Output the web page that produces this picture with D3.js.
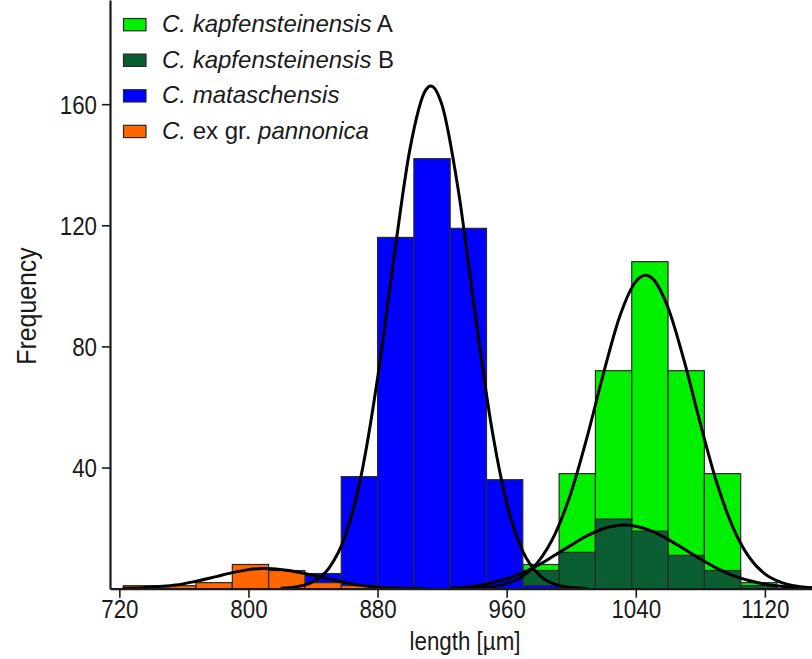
<!DOCTYPE html>
<html>
<head>
<meta charset="utf-8">
<script src="https://cdn.jsdelivr.net/npm/d3@7"></script>
<style>
  html, body { margin: 0; padding: 0; background: #ffffff; }
  svg { display: block; font-family: "Liberation Sans", Arial, sans-serif; }
</style>
</head>
<body>
<svg id="chart" width="812" height="659"></svg>
<script>
// ---------------- data ----------------
const binStart = 722.5;          // first bin edge, µm
const binWidth = 22.5;           // bin width, µm
const binCount = 19;

const seriesNames = ["C. kapfensteinensis A", "C. kapfensteinensis B", "C. mataschensis", "C. ex gr. pannonica"];

// counts per bin (bins start at 722.5 and are 22.5 µm wide)
const countsA      = [0,0,0,0,0,0,0,0,0,0,0, 8,38,72,108,72,38,2,0];
const countsB      = [0,0,0,0,0,0,0,0,0,0,0, 6,12,23,19,11,6,1,0];
const countsMatas  = [0,0,0,0,0,5,37,116,142,119,36,1,0,0,0,0,0,0,0];
const countsPannon = [1,1,2,8,6,2,1,0,0,0,0,0,0,0,0,0,0,0,0];

// fitted curves
const curveAX = [930,940,950,960,970,980,990,1000,1010,1020,1030,1040,1046,1050,1060,1070,1080,1090,1100,1110,1120,1130,1140,1150];
const curveAY = [0.05,0.2,0.6,1.7,4.2,9.2,18.1,31.9,50.4,71.1,89.8,101.4,103.5,102.6,92.8,75.2,54.5,35.3,20.5,10.6,4.9,2.1,0.8,0.25];

const curveBX = [925,940,950,960,970,980,990,1000,1010,1020,1033,1040,1050,1060,1070,1080,1090,1100,1110,1120,1130,1140,1150];
const curveBY = [0.2,0.8,1.9,3.3,5.3,7.9,11.1,14.4,17.5,19.8,21,20.6,19.0,16.3,13.1,9.8,6.8,4.4,2.7,1.5,0.8,0.4,0.2];

const curveMX = [820,830,840,850,860,870,880,890,900,910,913,920,930,940,950,960,970,980,990,1000,1010];
const curveMY = [0.16,0.67,2.3,6.9,17.5,37.8,69.5,108.7,145,164.8,166,159.6,131.7,92.6,55.5,28.4,12.3,4.6,1.4,0.4,0.1];

const curvePX = [722,735,745,755,767,780,790,800,808,815,825,835,845,857,868,880,895,910];
const curvePY = [0.15,0.35,0.7,1.2,2.4,4.0,5.3,6.3,6.7,6.6,6.0,5.0,3.8,2.4,1.2,0.5,0.15,0.05];

const xTicks = [720, 800, 880, 960, 1040, 1120];
const yTicks = [40, 80, 120, 160];
const xLabel = "length [µm]";
const yLabel = "Frequency";

// ---------------- styling ----------------
const colors = ["#00f000", "#0b5e32", "#0000ff", "#ff6600"];
const squeeze = 0.86;   // the reference axis text is horizontally condensed

const svg = d3.select("#chart");
const x = d3.scaleLinear().domain([714.2, 1149.2]).range([110, 812]);
const y = d3.scaleLinear().domain([0, 194.4]).range([588.7, 0]);

const bins = d3.range(binCount).map(i => binStart + i * binWidth);
const allCounts = [countsA, countsB, countsMatas, countsPannon];

// bars (overlaid, in this drawing order)
allCounts.forEach((counts, si) => {
  const data = bins.map((b, i) => ({x0: b, x1: b + binWidth, c: counts[i]})).filter(d => d.c > 0);
  svg.append("g")
    .selectAll("rect")
    .data(data)
    .join("rect")
    .attr("x", d => x(d.x0))
    .attr("width", d => x(d.x1) - x(d.x0))
    .attr("y", d => y(d.c))
    .attr("height", d => y(0) - y(d.c))
    .attr("fill", colors[si])
    .attr("stroke", "#2a2a2a")
    .attr("stroke-width", 1.2);
});

// curves
const line = d3.line().x(d => x(d[0])).y(d => y(d[1])).curve(d3.curveMonotoneX);
[[curvePX, curvePY], [curveMX, curveMY], [curveBX, curveBY], [curveAX, curveAY]].forEach(([cx, cy]) => {
  svg.append("path")
    .datum(cx.map((v, i) => [v, cy[i]]))
    .attr("d", line)
    .attr("fill", "none")
    .attr("stroke", "#000")
    .attr("stroke-width", 3)
    .attr("stroke-linejoin", "round");
});

// axes
const xAxis = svg.append("g")
  .attr("transform", `translate(0,${y(0)})`)
  .call(d3.axisBottom(x).tickValues(xTicks).tickSize(9).tickSizeOuter(0).tickPadding(3).tickFormat(d3.format("d")));
const yAxis = svg.append("g")
  .attr("transform", `translate(${x.range()[0]},0)`)
  .call(d3.axisLeft(y).tickValues(yTicks).tickSize(8).tickSizeOuter(0).tickPadding(4).tickFormat(d3.format("d")));
[xAxis, yAxis].forEach(g => {
  g.select(".domain").attr("stroke", "#1a1a1a").attr("stroke-width", 2.2);
  g.selectAll(".tick line").attr("stroke", "#1a1a1a").attr("stroke-width", 1.6);
  g.selectAll(".tick text").attr("fill", "#1a1a1a").style("font-size", "26px").style("font-family", "'Liberation Sans', Arial, sans-serif");
});
xAxis.selectAll(".tick text").attr("transform", `scale(${squeeze},1)`).attr("y", 11);
yAxis.selectAll(".tick text").attr("dy", "0.36em").attr("x", -13 / squeeze).attr("transform", `scale(${squeeze},1)`);

svg.append("text")
  .attr("transform", `translate(${(x.range()[0] + x.range()[1]) / 2 + 4},650) scale(${squeeze},1)`)
  .attr("text-anchor", "middle")
  .attr("fill", "#1a1a1a")
  .style("font-size", "26px")
  .text(xLabel);

svg.append("text")
  .attr("transform", `translate(36,306) rotate(-90) scale(${squeeze + 0.06},1)`)
  .attr("text-anchor", "middle")
  .attr("fill", "#1a1a1a")
  .style("font-size", "27px")
  .text(yLabel);

// legend
const legendParts = [
  [["C.", true], [" kapfensteinensis", true], [" A", false]],
  [["C.", true], [" kapfensteinensis", true], [" B", false]],
  [["C.", true], [" mataschensis", true]],
  [["C.", true], [" ex gr. ", false], ["pannonica", true]]
];
const legend = svg.append("g");
seriesNames.forEach((name, i) => {
  const cy = 24.5 + i * 35.6;
  legend.append("rect")
    .attr("x", 123.5).attr("y", cy - 6)
    .attr("width", 22.5).attr("height", 12.3)
    .attr("fill", colors[i])
    .attr("stroke", "#2a2a2a").attr("stroke-width", 1.2);
  const t = legend.append("text")
    .attr("x", 162).attr("y", cy + 7.5)
    .attr("fill", "#1a1a1a")
    .style("font-size", "24px");
  legendParts[i].forEach(([s, it]) => {
    t.append("tspan").attr("font-style", it ? "italic" : "normal").text(s);
  });
});
</script>
</body>
</html>
